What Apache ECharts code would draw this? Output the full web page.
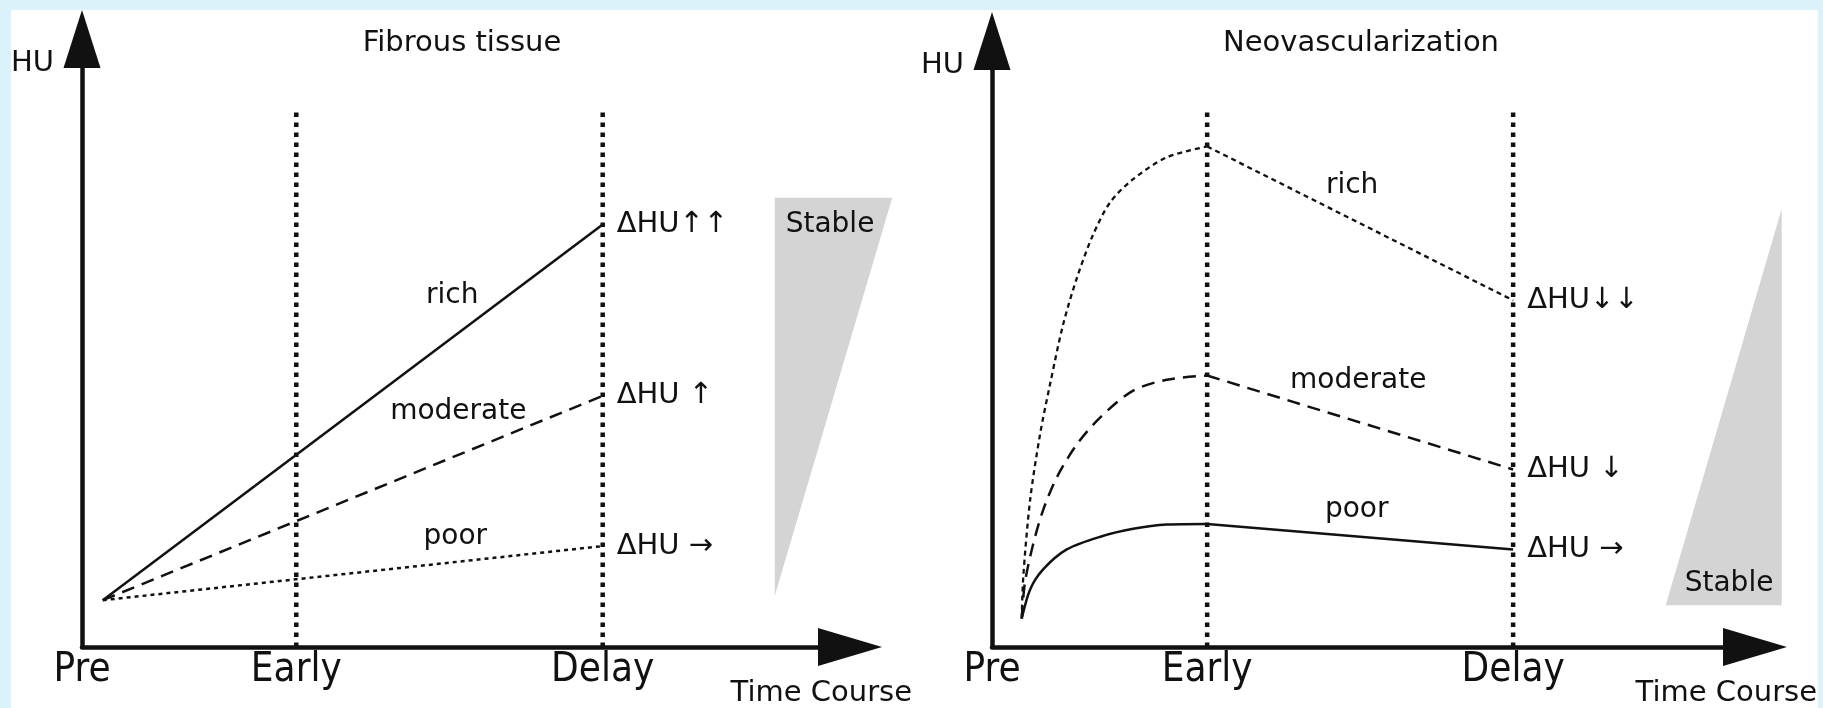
<!DOCTYPE html>
<html>
<head>
<meta charset="utf-8">
<title>Fibrous tissue / Neovascularization</title>
<script src="https://cdn.jsdelivr.net/npm/echarts@6.0.0/dist/echarts.min.js"></script>
<style>
html, body { margin: 0; padding: 0; background: #dcf2fb; }
#wrap { position: relative; width: 1823px; height: 708px; }
#panel { position: absolute; left: 11px; top: 10px; width: 1807px; height: 698px; background: #fff; }
#chart { position: absolute; left: 0; top: 0; width: 1823px; height: 708px; }
</style>
</head>
<body>
<div id="wrap"><div id="panel"></div><div id="chart"></div></div>
<script>
// x positions of the time points (Pre, Early, Delay), axis runs 0..100
var phaseNames = ['Pre', 'Early', 'Delay'];
var fibPhaseX = [0, 27.9, 67.8];
var neoPhaseX = [0, 28.2, 68.3];
var fibGuideTop = 87.9;
var neoGuideTop = 88.2;

var curveNames = ['rich', 'moderate', 'poor'];

// Fibrous tissue: straight rise from Pre to Delay
var fibRich = [[2.7, 7.7], [67.8, 69.5]];
var fibModerate = [[2.7, 7.7], [67.8, 41.3]];
var fibPoor = [[2.7, 7.7], [67.8, 16.6]];
var fibDelta = ['ΔHU↑↑', 'ΔHU ↑', 'ΔHU →'];
var fibNameX = [48.2, 49.0, 48.6];
var fibNameY = [57.7, 38.7, 18.2];
var fibStable = [[90.2, 73.9], [105.5, 73.9], [90.2, 8.4]];
var fibStableText = [97.4, 69.5];

// Neovascularization: fast rise to Early, then washout to Delay
var neoRichRise = [[3.9, 4.7], [4.1, 11.6], [5.0, 24.3], [6.3, 35.1], [7.6, 43.3], [9.3, 53.1],
  [11.1, 60.8], [13.2, 67.9], [15.5, 73.4], [18.5, 77.2], [22.9, 80.8], [28.2, 82.6]];
var neoRichFall = [[28.2, 82.6], [68.3, 57.2]];
var neoModerateRise = [[3.9, 4.7], [4.3, 10.5], [5.4, 17.0], [6.7, 22.6], [8.5, 28.0], [11.1, 33.4],
  [14.2, 37.9], [18.5, 42.3], [22.9, 44.1], [28.2, 44.8]];
var neoModerateFall = [[28.2, 44.8], [68.3, 29.3]];
var neoPoorRise = [[3.9, 4.7], [5.0, 9.5], [6.7, 12.8], [9.8, 16.1], [14.2, 18.2], [18.5, 19.5],
  [22.9, 20.2], [28.2, 20.3]];
var neoPoorFall = [[28.2, 20.3], [68.3, 16.1]];
var neoDelta = ['ΔHU↓↓', 'ΔHU ↓', 'ΔHU →'];
var neoNameX = [47.2, 48.0, 47.8];
var neoNameY = [76.1, 43.9, 22.6];
var neoStable = [[103.5, 72.3], [103.5, 6.9], [88.3, 6.9]];
var neoStableText = [96.6, 10.5];

var ink = '#111111';
var textFont = 'DejaVu Sans';
var tickFont = 'Liberation Sans Narrow, DejaVu Sans Condensed, sans-serif';

var dotted = [4, 4];
var dashed = [13, 8];
var guideDash = [4.5, 5.5];

function xAxisFor(gridIndex, phaseX) {
  return {
    type: 'value',
    gridIndex: gridIndex,
    min: 0,
    max: 100,
    name: 'Time Course',
    nameLocation: 'end',
    nameGap: 62,
    nameTextStyle: {
      fontFamily: textFont,
      fontSize: 29,
      color: ink,
      align: 'right',
      verticalAlign: 'top',
      padding: [32, 0, 0, 0]
    },
    axisLine: {
      show: true,
      symbol: ['none', 'triangle'],
      symbolSize: [38, 64],
      lineStyle: {color: ink, width: 4.5}
    },
    axisTick: {show: false},
    splitLine: {show: false},
    axisLabel: {
      customValues: phaseX,
      formatter: function (value) {
        var i = phaseX.indexOf(value);
        return i >= 0 ? phaseNames[i] : '';
      },
      fontFamily: tickFont,
      fontSize: 40,
      color: ink,
      margin: 4
    }
  };
}

function yAxisFor(gridIndex) {
  return {
    type: 'value',
    gridIndex: gridIndex,
    min: 0,
    max: 100,
    name: 'HU',
    nameLocation: 'end',
    nameGap: -24,
    nameTextStyle: {
      fontFamily: textFont,
      fontSize: 29,
      color: ink,
      align: 'right',
      verticalAlign: 'middle',
      padding: [0, 28, 0, 0]
    },
    axisLine: {
      show: true,
      symbol: ['none', 'triangle'],
      symbolSize: [37, 58],
      lineStyle: {color: ink, width: 4.5}
    },
    axisTick: {show: false},
    splitLine: {show: false},
    axisLabel: {show: false}
  };
}

function guide(gridIndex, x, top) {
  return {
    type: 'line',
    xAxisIndex: gridIndex,
    yAxisIndex: gridIndex,
    data: [[x, 0], [x, top]],
    symbol: 'none',
    silent: true,
    lineStyle: {color: ink, width: 4.5, type: guideDash},
    z: 1
  };
}

function curve(gridIndex, data, dash, width, delta, smooth) {
  var s = {
    type: 'line',
    xAxisIndex: gridIndex,
    yAxisIndex: gridIndex,
    data: data,
    symbol: 'none',
    smooth: smooth || false,
    lineStyle: {color: ink, width: width, type: dash},
    z: 3
  };
  if (delta) {
    s.endLabel = {
      show: true,
      formatter: delta,
      distance: 14,
      fontFamily: textFont,
      fontSize: 29,
      color: ink
    };
  }
  return s;
}

function triangle(gridIndex, pts) {
  return {
    type: 'custom',
    xAxisIndex: gridIndex,
    yAxisIndex: gridIndex,
    clip: false,
    silent: true,
    data: [pts[0]],
    renderItem: function (params, api) {
      return {
        type: 'polygon',
        shape: {points: pts.map(function (p) { return api.coord(p); })},
        style: {fill: '#d4d4d4'}
      };
    },
    z: 0
  };
}

function names(gridIndex, xs, ys, stableXY) {
  var data = curveNames.map(function (n, i) {
    return {name: n, value: [xs[i], ys[i]]};
  });
  data.push({name: 'Stable', value: stableXY});
  return {
    type: 'scatter',
    xAxisIndex: gridIndex,
    yAxisIndex: gridIndex,
    symbolSize: 0,
    silent: true,
    data: data,
    itemStyle: {opacity: 1},
    label: {
      show: true,
      position: [0, 0],
      align: 'center',
      verticalAlign: 'middle',
      formatter: '{b}',
      fontFamily: textFont,
      fontSize: 28,
      color: ink,
      opacity: 1,
      textBorderWidth: 0
    },
    z: 5
  };
}

var chart = echarts.init(document.getElementById('chart'));
chart.setOption({
  animation: false,
  backgroundColor: 'transparent',
  title: [
    {text: 'Fibrous tissue', left: 457, top: 24, textAlign: 'center',
      textStyle: {fontFamily: textFont, fontSize: 29, fontWeight: 'normal', color: ink}},
    {text: 'Neovascularization', left: 1356, top: 24, textAlign: 'center',
      textStyle: {fontFamily: textFont, fontSize: 29, fontWeight: 'normal', color: ink}}
  ],
  grid: [
    {left: 82, top: 39, width: 768, height: 610},
    {left: 992, top: 41, width: 763, height: 610}
  ],
  xAxis: [xAxisFor(0, fibPhaseX), xAxisFor(1, neoPhaseX)],
  yAxis: [yAxisFor(0), yAxisFor(1)],
  series: [
    triangle(0, fibStable),
    triangle(1, neoStable),
    guide(0, fibPhaseX[1], fibGuideTop),
    guide(0, fibPhaseX[2], fibGuideTop),
    guide(1, neoPhaseX[1], neoGuideTop),
    guide(1, neoPhaseX[2], neoGuideTop),

    curve(0, fibRich, 'solid', 2.5, fibDelta[0]),
    curve(0, fibModerate, dashed, 2.5, fibDelta[1]),
    curve(0, fibPoor, dotted, 2.5, fibDelta[2]),

    curve(1, neoRichRise, [5, 4], 2.3, null, 0.3),
    curve(1, neoRichFall, [5, 4], 2.3, neoDelta[0]),
    curve(1, neoModerateRise, dashed, 2.5, null, 0.3),
    curve(1, neoModerateFall, dashed, 2.5, neoDelta[1]),
    curve(1, neoPoorRise, 'solid', 2.5, null, 0.3),
    curve(1, neoPoorFall, 'solid', 2.5, neoDelta[2]),

    names(0, fibNameX, fibNameY, fibStableText),
    names(1, neoNameX, neoNameY, neoStableText)
  ]
});
</script>
</body>
</html>
